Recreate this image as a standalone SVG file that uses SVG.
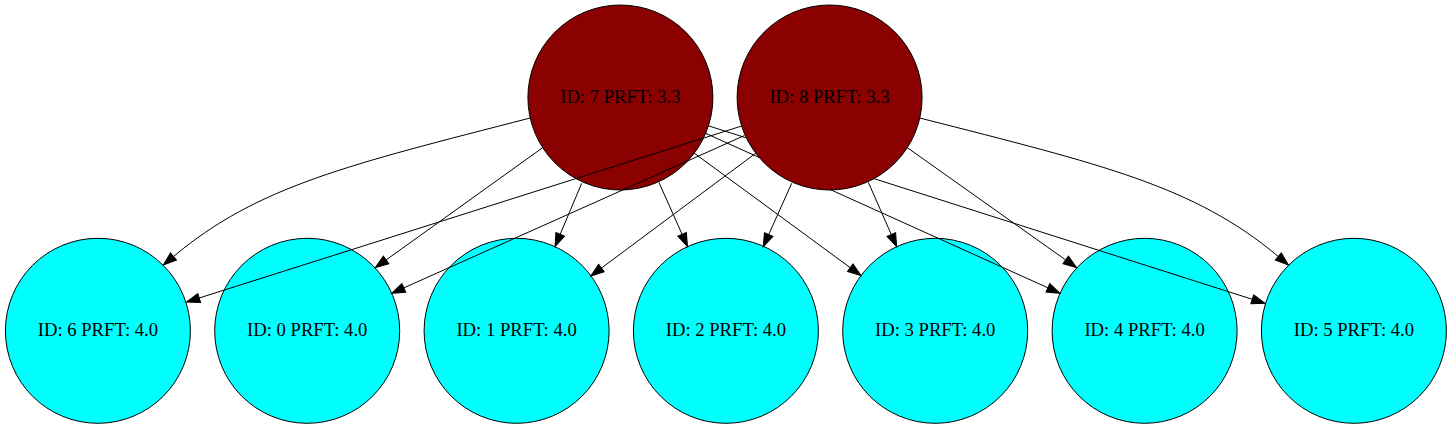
<svg xmlns="http://www.w3.org/2000/svg" width="1452" height="429" viewBox="0 0 1452 429">
<style>
  .node circle { stroke: #000; stroke-width: 1; }
  .top circle { fill: #8b0000; }
  .bottom circle { fill: #00ffff; }
  .node text { font-family: "Liberation Serif", "Times New Roman", serif; font-size: 18.67px; text-anchor: middle; fill: #000; }
  .edge { fill: none; stroke: #000; stroke-width: 1; marker-end: url(#arrow); }
</style>
<defs>
  <marker id="arrow" markerUnits="userSpaceOnUse" markerWidth="14" markerHeight="10" viewBox="0 0 14 10" refX="0" refY="5" orient="auto" overflow="visible">
    <path d="M0,0.33 L13.3,5 L0,9.67 Z" fill="#000" stroke="#000" stroke-width="1"/>
  </marker>
  <mask id="under8" maskUnits="userSpaceOnUse" x="0" y="0" width="1452" height="429">
    <rect x="0" y="0" width="1452" height="429" fill="#fff"/>
    <circle cx="829.6" cy="97.5" r="92.5" fill="#000"/>
  </mask>
</defs>
<rect width="1452" height="429" fill="#fff"/>
<g id="nodes">
  <g id="node6" class="node bottom"><circle cx="97.9" cy="330.8" r="92.5"/><text x="97.9" y="336">ID: 6 PRFT: 4.0</text></g>
  <g id="node0" class="node bottom"><circle cx="307.2" cy="330.8" r="92.5"/><text x="307.2" y="336">ID: 0 PRFT: 4.0</text></g>
  <g id="node1" class="node bottom"><circle cx="516.6" cy="330.8" r="92.5"/><text x="516.6" y="336">ID: 1 PRFT: 4.0</text></g>
  <g id="node2" class="node bottom"><circle cx="725.9" cy="330.8" r="92.5"/><text x="725.9" y="336">ID: 2 PRFT: 4.0</text></g>
  <g id="node3" class="node bottom"><circle cx="935.2" cy="330.8" r="92.5"/><text x="935.2" y="336">ID: 3 PRFT: 4.0</text></g>
  <g id="node4" class="node bottom"><circle cx="1144.6" cy="330.8" r="92.5"/><text x="1144.6" y="336">ID: 4 PRFT: 4.0</text></g>
  <g id="node5" class="node bottom"><circle cx="1353.9" cy="330.8" r="92.5"/><text x="1353.9" y="336">ID: 5 PRFT: 4.0</text></g>
  <g id="node7" class="node top"><circle cx="620.4" cy="97.5" r="92.5"/><text x="620.4" y="103">ID: 7 PRFT: 3.3</text></g>
  <g id="node8" class="node top"><circle cx="829.6" cy="97.5" r="92.5"/><text x="829.6" y="103">ID: 8 PRFT: 3.3</text></g>
</g>
<g id="connectors">
  <path id="e7-6" class="edge" d="M530.2,118 C349,164.8 257.7,185.8 173.5,256.5"/>
  <path id="e7-0" class="edge" d="M542.5,147.8 L386.1,259.95"/>
  <path id="e7-1" class="edge" d="M581.7,183.3 L560.2,234.25"/>
  <path id="e7-2" class="edge" d="M659,182.5 L682.1,234.35"/>
  <path id="e7-3" class="edge" d="M694,153 L850.3,267.7"/>
  <path id="e7-4" class="edge" mask="url(#under8)" d="M706,133.5 L1047.9,287.8"/>
  <path id="e7-5" class="edge" mask="url(#under8)" d="M709,126 L1252.3,299.3"/>
  <path id="e8-6" class="edge" d="M741.7,126 L199.2,298"/>
  <path id="e8-0" class="edge" d="M744.5,135.5 L403.8,287.9"/>
  <path id="e8-1" class="edge" d="M756,153 L601.4,268.1"/>
  <path id="e8-2" class="edge" d="M791.7,183.3 L768.7,234.6"/>
  <path id="e8-3" class="edge" d="M868.3,182.3 L891.3,234.5"/>
  <path id="e8-4" class="edge" d="M907.5,147.8 L1065.7,259.95"/>
  <path id="e8-5" class="edge" d="M919.8,118 C1102.8,164.8 1194.1,185.8 1278.3,256.5"/>
</g>
</svg>
